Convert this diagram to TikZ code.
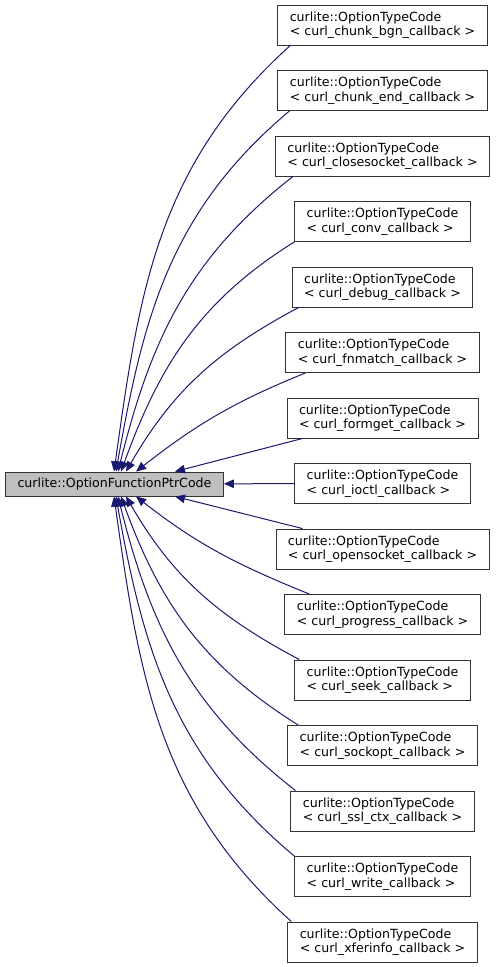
\documentclass[tikz,border=0pt]{standalone}
\usepackage{fontspec}
\setmainfont{DejaVu Sans}
\usepackage{xcolor}
\usetikzlibrary{arrows.meta,positioning}
\definecolor{edgeblue}{HTML}{191970}
\definecolor{basegray}{HTML}{BFBFBF}

\begin{document}
\begin{tikzpicture}[
  x=1pt, y=1pt,
  font=\fontsize{12.6}{14.5}\selectfont,
  cls/.style={draw=black!80, line width=0.9pt, fill=white, align=left, inner xsep=12pt, inner ysep=0pt, minimum height=40pt},
  base/.style={cls, fill=basegray, minimum height=24pt},
  inh/.style={{Triangle[length=10pt, width=8.5pt]}-, draw=edgeblue, line width=1pt}
]
\useasboundingbox (0,0) rectangle (499,-967);
% derived classes
\node[cls] (cbgn) at (382.5,-25) {curlite::OptionTypeCode\\< curl\_chunk\_bgn\_callback >};
\node[cls, below=24.6pt of cbgn] (cend) {curlite::OptionTypeCode\\< curl\_chunk\_end\_callback >};
\node[cls, below=24.6pt of cend] (cclose) {curlite::OptionTypeCode\\< curl\_closesocket\_callback >};
\node[cls, below=24.6pt of cclose] (cconv) {curlite::OptionTypeCode\\< curl\_conv\_callback >};
\node[cls, below=24.6pt of cconv] (cdebug) {curlite::OptionTypeCode\\< curl\_debug\_callback >};
\node[cls, below=24.6pt of cdebug] (cfnmatch) {curlite::OptionTypeCode\\< curl\_fnmatch\_callback >};
\node[cls, below=24.6pt of cfnmatch] (cformget) {curlite::OptionTypeCode\\< curl\_formget\_callback >};
\node[cls, below=24.6pt of cformget] (cioctl) {curlite::OptionTypeCode\\< curl\_ioctl\_callback >};
\node[cls, below=24.6pt of cioctl] (copen) {curlite::OptionTypeCode\\< curl\_opensocket\_callback >};
\node[cls, below=24.6pt of copen] (cprogress) {curlite::OptionTypeCode\\< curl\_progress\_callback >};
\node[cls, below=24.6pt of cprogress] (cseek) {curlite::OptionTypeCode\\< curl\_seek\_callback >};
\node[cls, below=24.6pt of cseek] (csockopt) {curlite::OptionTypeCode\\< curl\_sockopt\_callback >};
\node[cls, below=24.6pt of csockopt] (cssl) {curlite::OptionTypeCode\\< curl\_ssl\_ctx\_callback >};
\node[cls, below=24.6pt of cssl] (cwrite) {curlite::OptionTypeCode\\< curl\_write\_callback >};
\node[cls, below=24.6pt of cwrite] (cxfer) {curlite::OptionTypeCode\\< curl\_xferinfo\_callback >};
% base class
\node[base] (base) at (114.5,-484) {curlite::OptionFunctionPtrCode};
% inheritance edges, upper half
\draw[inh] ([xshift=-0.5pt]base.north) to[out=82, in=222] ([xshift=13pt]cbgn.south west);
\draw[inh] ([xshift=1.5pt]base.north) to[out=80, in=220] ([xshift=12pt]cend.south west);
\draw[inh] ([xshift=3.5pt]base.north) to[out=76, in=218] ([xshift=18pt]cclose.south west);
\draw[inh] ([xshift=6.5pt]base.north) to[out=70, in=212] (cconv.south west);
\draw[inh] ([xshift=11.5pt]base.north) to[out=60, in=208] ([xshift=7pt]cdebug.south west);
\draw[inh] ([xshift=21.5pt]base.north) to[out=38, in=202] ([xshift=20pt]cfnmatch.south west);
\draw[inh] ([xshift=60.5pt]base.north) -- ([xshift=16pt]cformget.south west);
\draw[inh] (base) -- (cioctl);
% lower half
\draw[inh] ([xshift=60.5pt]base.south) -- ([xshift=27pt]copen.north west);
\draw[inh] ([xshift=21.5pt]base.south) to[out=-38, in=158] ([xshift=25pt]cprogress.north west);
\draw[inh] ([xshift=11.5pt]base.south) to[out=-60, in=152] ([xshift=5pt]cseek.north west);
\draw[inh] ([xshift=6.5pt]base.south) to[out=-70, in=148] ([xshift=11pt]csockopt.north west);
\draw[inh] ([xshift=3.5pt]base.south) to[out=-76, in=142] ([xshift=5pt]cssl.north west);
\draw[inh] ([xshift=1.5pt]base.south) to[out=-80, in=140] (cwrite.north west);
\draw[inh] ([xshift=-0.5pt]base.south) to[out=-82, in=138] ([xshift=4pt]cxfer.north west);
\end{tikzpicture}
\end{document}
